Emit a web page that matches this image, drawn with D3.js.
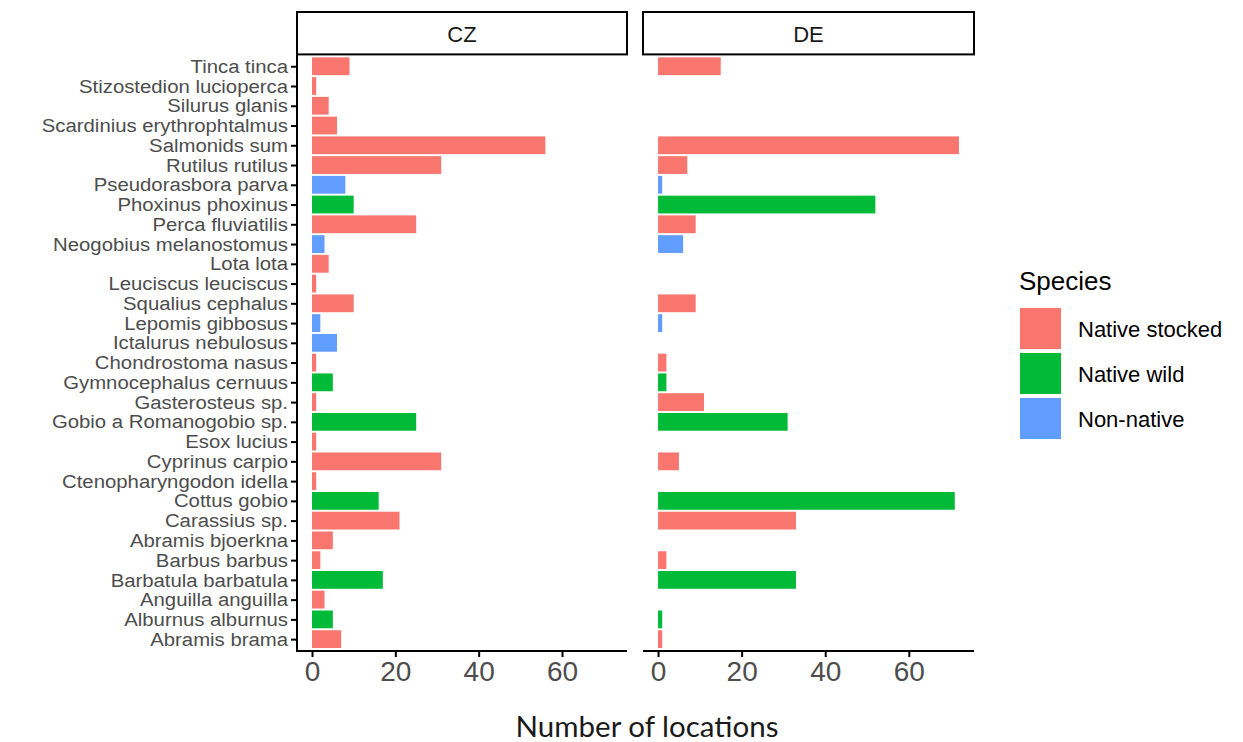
<!DOCTYPE html>
<html>
<head>
<meta charset="utf-8">
<script src="https://cdn.jsdelivr.net/npm/d3@7"></script>
<style>
  html, body { margin: 0; padding: 0; background: #fff; }
  svg { display: block; }
</style>
</head>
<body>
<svg id="chart" width="1243" height="742"></svg>
<script>
// Species, listed top to bottom as they appear on the y axis
const species = [
  "Tinca tinca", "Stizostedion lucioperca", "Silurus glanis", "Scardinius erythrophtalmus",
  "Salmonids sum", "Rutilus rutilus", "Pseudorasbora parva", "Phoxinus phoxinus",
  "Perca fluviatilis", "Neogobius melanostomus", "Lota lota", "Leuciscus leuciscus",
  "Squalius cephalus", "Lepomis gibbosus", "Ictalurus nebulosus", "Chondrostoma nasus",
  "Gymnocephalus cernuus", "Gasterosteus sp.", "Gobio a Romanogobio sp.", "Esox lucius",
  "Cyprinus carpio", "Ctenopharyngodon idella", "Cottus gobio", "Carassius sp.",
  "Abramis bjoerkna", "Barbus barbus", "Barbatula barbatula", "Anguilla anguilla",
  "Alburnus alburnus", "Abramis brama"
];

// Status of each species (same order)
const status = [
  "Native stocked", "Native stocked", "Native stocked", "Native stocked",
  "Native stocked", "Native stocked", "Non-native", "Native wild",
  "Native stocked", "Non-native", "Native stocked", "Native stocked",
  "Native stocked", "Non-native", "Non-native", "Native stocked",
  "Native wild", "Native stocked", "Native wild", "Native stocked",
  "Native stocked", "Native stocked", "Native wild", "Native stocked",
  "Native stocked", "Native stocked", "Native wild", "Native stocked",
  "Native wild", "Native stocked"
];

// Number of locations per country (null = species not recorded)
const czValues = [9, 1, 4, 6, 56, 31, 8, 10, 25, 3, 4, 1, 10, 2, 6, 1, 5, 1, 25, 1, 31, 1, 16, 21, 5, 2, 17, 3, 5, 7];
const deValues = [15, null, null, null, 72, 7, 1, 52, 9, 6, null, null, 9, 1, null, 2, 2, 11, 31, null, 5, null, 71, 33, null, 2, 33, null, 1, 1];

const countries = ["CZ", "DE"];
const statusLevels = ["Native stocked", "Native wild", "Non-native"];
const statusColors = ["#F8766D", "#00BA38", "#619CFF"];
const xTicks = [0, 20, 40, 60];
const xTitle = "Number of locations";
const legendTitle = "Species";

const svg = d3.select("#chart");

// Panel geometry
const panelTop = 54.4, panelBottom = 651;
const stripTop = 12;
const panels = [
  { name: countries[0], x0: 297, x1: 627, values: czValues },
  { name: countries[1], x0: 643, x1: 974, values: deValues }
];

const color = d3.scaleOrdinal().domain(statusLevels).range(statusColors);

// Discrete y scale with ggplot-style 0.6 unit padding on each end
const y = d3.scalePoint().domain(species).range([panelTop, panelBottom]).padding(0.6);
const barH = y.step() * 0.9;

const maxVal = d3.max(czValues.concat(deValues));
const xDomain = [-0.05 * maxVal, maxVal * 1.05];

const greyText = "#4D4D4D";
const sans = "Liberation Sans, Arial, sans-serif";
// y labels use a slightly widened face
const labelStretch = 1.13;

panels.forEach((p, pi) => {
  const x = d3.scaleLinear().domain(xDomain).range([p.x0, p.x1]);
  const g = svg.append("g");

  // Strip header
  g.append("rect")
    .attr("x", p.x0).attr("y", stripTop)
    .attr("width", p.x1 - p.x0).attr("height", panelTop - stripTop)
    .attr("fill", "#fff").attr("stroke", "#000").attr("stroke-width", 2);
  g.append("text")
    .attr("x", (p.x0 + p.x1) / 2).attr("y", (stripTop + panelTop) / 2 + 1)
    .attr("text-anchor", "middle").attr("dominant-baseline", "central")
    .attr("font-family", sans)
    .attr("font-size", 22).attr("fill", "#1A1A1A")
    .text(p.name);

  // Bars
  const rows = species.map((s, i) => ({ s, v: p.values[i], st: status[i] }))
    .filter(d => d.v != null);
  g.selectAll("rect.bar").data(rows).enter().append("rect")
    .attr("class", "bar")
    .attr("x", x(0))
    .attr("y", d => y(d.s) - barH / 2)
    .attr("width", d => x(d.v) - x(0))
    .attr("height", barH)
    .attr("fill", d => color(d.st));

  // X axis
  const xAxis = d3.axisBottom(x).tickValues(xTicks).tickSize(6).tickSizeOuter(0).tickPadding(4);
  const ax = g.append("g").attr("transform", `translate(0,${panelBottom})`).call(xAxis);
  ax.select(".domain").attr("stroke", "#000").attr("stroke-width", 2)
    .attr("d", `M${p.x0},0H${p.x1}`);
  ax.selectAll(".tick line").attr("stroke", "#000").attr("stroke-width", 2);
  ax.selectAll(".tick text")
    .attr("font-family", sans)
    .attr("font-size", 28).attr("fill", greyText);

  // Y axis only on the first panel
  if (pi === 0) {
    const yAxis = d3.axisLeft(y).tickSize(6).tickSizeOuter(0).tickPadding(3);
    const ay = g.append("g").attr("transform", `translate(${p.x0},0)`).call(yAxis);
    ay.select(".domain").attr("stroke", "#000").attr("stroke-width", 2)
      .attr("d", `M0,${panelTop}V${panelBottom + 1}`);
    ay.selectAll(".tick line").attr("stroke", "#000").attr("stroke-width", 2);
    ay.selectAll(".tick text")
      .attr("font-family", sans)
      .attr("font-size", 18).attr("fill", greyText)
      .attr("x", -9 / labelStretch)
      .attr("dy", "0.34em")
      .attr("transform", `scale(${labelStretch},1)`);
  }
});

// X axis title
svg.append("text")
  .attr("x", 647).attr("y", 737)
  .attr("text-anchor", "middle")
  .attr("font-family", "Lato, Open Sans, sans-serif")
  .attr("font-size", 29.5).attr("fill", "#1A1A1A")
  .text(xTitle);

// Legend
const lg = svg.append("g");
lg.append("text")
  .attr("x", 1019).attr("y", 290)
  .attr("font-family", sans)
  .attr("font-size", 26).attr("fill", "#000")
  .text(legendTitle);
statusLevels.forEach((lvl, i) => {
  const top = 308 + i * 45;
  lg.append("rect")
    .attr("x", 1020).attr("y", top).attr("width", 41).attr("height", 41)
    .attr("fill", color(lvl));
  lg.append("text")
    .attr("x", 1078).attr("y", top + 21)
    .attr("dominant-baseline", "central")
    .attr("font-family", sans)
    .attr("font-size", 22).attr("fill", "#000")
    .text(lvl);
});
</script>
</body>
</html>
